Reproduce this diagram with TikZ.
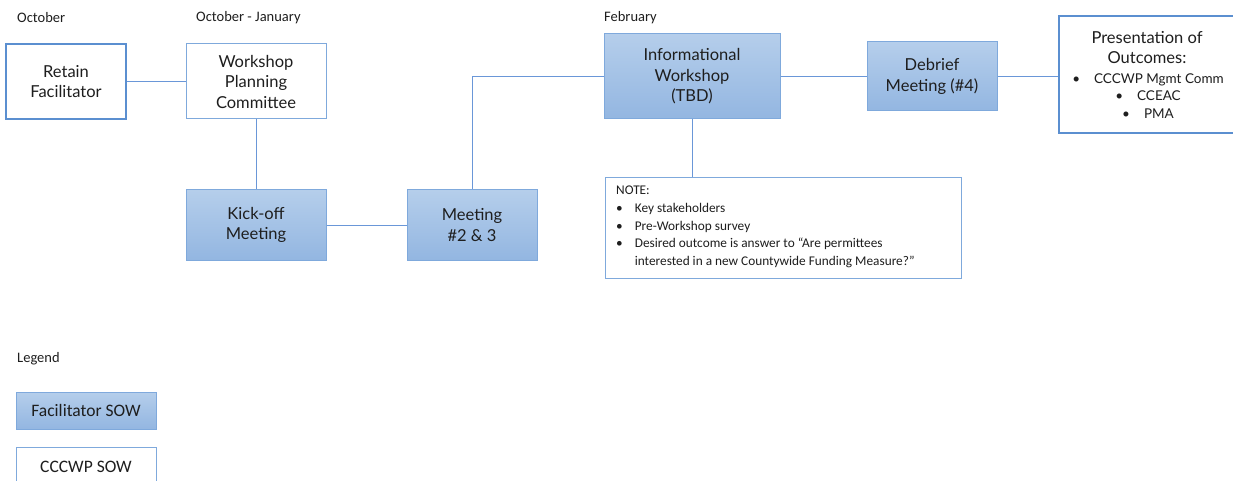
\documentclass[tikz,border=0pt]{standalone}
\usepackage{fontspec}
\setmainfont{Lato}
\newfontfamily\calib{Carlito}
\definecolor{edgeblue}{HTML}{7FA9DC}
\definecolor{darkedge}{HTML}{5B8FD0}
\definecolor{linkblue}{HTML}{6A97D8}
\definecolor{topfill}{HTML}{B5CEEB}
\definecolor{botfill}{HTML}{93B6E1}
\definecolor{txt}{HTML}{1E1E1E}
\tikzset{
  x=1pt,y=-1pt,
  fac/.style={draw=edgeblue, line width=1pt, top color=topfill, bottom color=botfill, align=center, text=txt, font=\fontsize{16.5}{20.5}\selectfont, inner sep=0pt},
  ccc/.style={draw=edgeblue, line width=1pt, fill=white, align=center, text=txt, font=\fontsize{16.5}{20.5}\selectfont, inner sep=0pt},
  strong/.style={draw=darkedge, line width=1.6pt, fill=white, align=center, text=txt, font=\fontsize{16.5}{20.5}\selectfont, inner sep=0pt},
  link/.style={draw=linkblue, line width=0.9pt},
  lbl/.style={font=\calib\fontsize{14.5}{17}\selectfont, text=txt, anchor=west, inner sep=0pt},
}
\begin{document}
\begin{tikzpicture}
\useasboundingbox (0,0) rectangle (1233,481);
\clip (0,0) rectangle (1233,481);
% timeline labels
\node[lbl] (oct) at (17,18) {October};
\node[lbl] (octjan) at (196,18) {October - January};
\node[lbl] (feb) at (604,18) {February};
\node[lbl] (leg) at (17,359) {Legend};
% boxes
\node[strong, minimum width=120, minimum height=75] (retain) at (66,81.5) {Retain\\Facilitator};
\node[ccc, minimum width=140, minimum height=75] (wpc) at (256,81.5) {Workshop\\Planning\\Committee};
\node[fac, minimum width=140, minimum height=70] (kick) at (256,225) {Kick-off\\Meeting};
\node[fac, minimum width=130, minimum height=70] (meet) at (472,225) {Meeting\\\#2 \& 3};
\node[fac, minimum width=176, minimum height=85] (info) at (692,76.5) {Informational\\Workshop\\(TBD)};
\node[fac, minimum width=130, minimum height=69] (debrief) at (932,76.5) {Debrief\\Meeting (\#4)};
\node[strong, minimum width=182, minimum height=117] (pres) at (1150,74.5) {};
\node[align=center, text=txt, inner sep=0pt, font=\fontsize{16.5}{20}\selectfont] (prestitle) at (1147,48) {Presentation of\\Outcomes:};
\node[align=center, text=txt, inner sep=0pt, font=\fontsize{13.5}{17.5}\selectfont] (presitems) at (1148,96) {\textbullet\hspace{14pt}CCCWP Mgmt Comm\\\textbullet\hspace{14pt}CCEAC\\\textbullet\hspace{14pt}PMA};
\node[draw=edgeblue, line width=1pt, fill=white, minimum width=356, minimum height=100, inner sep=0pt] (note) at (783,228) {};
\node[anchor=north west, inner sep=0pt, text=txt, font=\calib\fontsize{13.3}{17.6}\selectfont, align=left] (notetxt) at (616,186) {NOTE:\\
\textbullet\hspace{12pt}Key stakeholders\\
\textbullet\hspace{12pt}Pre-Workshop survey\\
\textbullet\hspace{12pt}Desired outcome is answer to “Are permittees\\
\phantom{\textbullet}\hspace{12pt}interested in a new Countywide Funding Measure?”};
% legend
\node[fac, minimum width=140, minimum height=37, font=\calib\fontsize{17.5}{20}\selectfont] (legfac) at (86,410.5) {Facilitator SOW};
\node[ccc, minimum width=140, minimum height=40, font=\calib\fontsize{17.5}{20}\selectfont] (legccc) at (86,467) {CCCWP SOW};
% connectors
\draw[link] (retain.east) -- (wpc.west);
\draw[link] (wpc.south) -- (kick.north);
\draw[link] (kick.east) -- (meet.west);
\draw[link] (meet.north) |- (info.west);
\draw[link] (info.east) -- (debrief.west);
\draw[link] (debrief.east) -- (debrief.east -| pres.west);
\draw[link] (info.south) -- (info.south |- note.north);
\end{tikzpicture}
\end{document}
